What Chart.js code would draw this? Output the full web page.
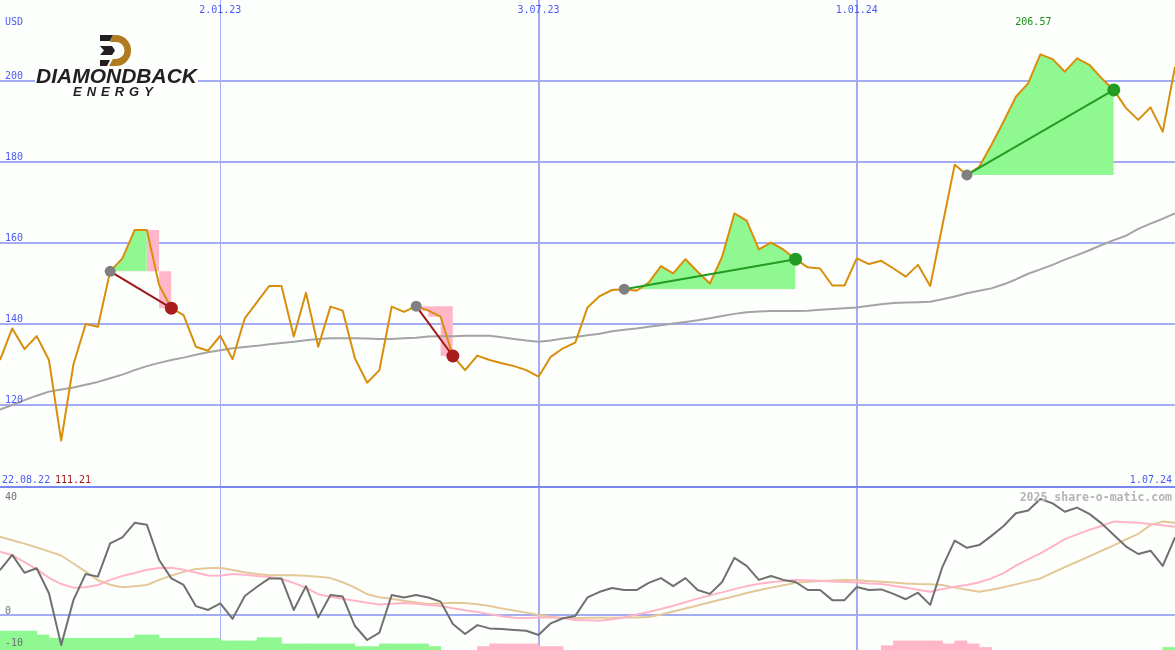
<!DOCTYPE html>
<html>
<head>
<meta charset="utf-8">
<script src="https://cdn.jsdelivr.net/npm/chart.js@4.4.1/dist/chart.umd.min.js"></script>
<style>
  html, body { margin: 0; padding: 0; background: #fcfffc; }
  #wrap { position: relative; width: 1175px; height: 650px; overflow: hidden; background: #fcfffc; }
  #priceChart { position: absolute; left: 0; top: 0; }
  #oscChart { position: absolute; left: 0; top: 486px; }
  #logo { position: absolute; left: 35px; top: 33px; width: 163px; height: 66px; background: #fcfffc; }
  #logo svg { position: absolute; left: 65px; top: 2px; }
  #logo .name { position: absolute; left: 1px; top: 32px; font: italic bold 21px "Liberation Sans", Arial, sans-serif; line-height: 21px; color: #231f20; white-space: nowrap; }
  #logo .sub { position: absolute; left: 38px; top: 52px; font: italic bold 13px "Liberation Sans", Arial, sans-serif; line-height: 13px; letter-spacing: 5px; color: #231f20; white-space: nowrap; }
</style>
</head>
<body>
<div id="wrap">
  <canvas id="priceChart" width="1175" height="486"></canvas>
  <canvas id="oscChart" width="1175" height="164"></canvas>
  <div id="logo">
    <svg width="31" height="31" viewBox="0 0 31 31">
      <path fill="#b07a1e" d="M13 0 H16 A15 15.5 0 0 1 16 31 H9 L13 24 H16 A8.5 8.5 0 0 0 16 7 H10 Z"/>
      <polygon fill="#231f20" points="0,0 13,0 10,6 0,6"/>
      <polygon fill="#231f20" points="0,11 12,11 15,15.5 12,20 0,20 4,15.5"/>
      <polygon fill="#231f20" points="0,25 10,25 7,31 0,31"/>
    </svg>
    <div class="name">DIAMONDBACK</div>
    <div class="sub">ENERGY</div>
  </div>
</div>
<script>
// weekly closes, 22.08.22 .. 1.07.24 (index = week)
const close = [
  131.1, 138.9, 133.8, 137.0, 131.1, 111.21, 130.0, 140.0, 139.3, 153.0,
  156.2, 163.2, 163.2, 149.6, 143.9, 142.2, 134.4, 133.4, 137.1, 131.3,
  141.4, 145.4, 149.4, 149.4, 136.9, 147.7, 134.4, 144.3, 143.3, 131.5,
  125.5, 128.6, 144.3, 143.0, 144.4, 143.3, 141.8, 132.1, 128.6, 132.2,
  131.1, 130.3, 129.6, 128.6, 127.0, 131.9, 134.0, 135.4, 144.1, 146.9,
  148.4, 148.6, 148.2, 150.2, 154.3, 152.5, 156.0, 152.9, 150.0, 156.6,
  167.3, 165.5, 158.4, 160.1, 158.4, 156.0, 154.0, 153.7, 149.5, 149.5,
  156.2, 154.8, 155.6, 153.7, 151.7, 154.6, 149.4, 164.4, 179.3, 176.8,
  178.8, 184.2, 190.0, 196.1, 199.4, 206.57, 205.4, 202.3, 205.6, 204.0,
  200.7, 197.8, 193.3, 190.4, 193.5, 187.5, 203.5
];
const average = [
  118.9, 120.0, 121.2, 122.3, 123.3, 123.8, 124.3, 125.0, 125.7, 126.6,
  127.5, 128.6, 129.6, 130.4, 131.1, 131.7, 132.4, 133.0, 133.5, 134.0,
  134.3, 134.6, 135.0, 135.3, 135.6, 136.0, 136.3, 136.5, 136.5, 136.5,
  136.4, 136.3, 136.3, 136.5, 136.6, 136.9, 137.0, 137.0, 137.1, 137.1,
  137.1, 136.7, 136.3, 135.9, 135.6, 135.9, 136.4, 136.8, 137.2, 137.6,
  138.2, 138.6, 138.9, 139.3, 139.7, 140.1, 140.5, 140.9, 141.4, 142.0,
  142.5, 142.9, 143.1, 143.2, 143.2, 143.2, 143.3, 143.5, 143.7, 143.9,
  144.1, 144.5, 144.9, 145.2, 145.3, 145.4, 145.5, 146.1, 146.8, 147.6,
  148.2, 148.8, 149.8, 151.0, 152.4, 153.5, 154.6, 155.9, 157.0, 158.2,
  159.5, 160.7, 161.8, 163.5, 164.8, 166.0, 167.3
];

// trades: entry week, exit week, last week of the gain area
const tradeEntry = [9, 34, 51, 79];
const tradeExit = [14, 37, 65, 91];
const gainEnd = [12, null, 65, 91];
// loss steps of the two losing trades
const lossTrade = [0, 1];
const lossStart = [12, 34];
const lossLevels = [[163.2, 163.2, 143.9], [144.4, 143.3, 141.8, 132.1]];

// lower panel
const oscMain = [
  15.1, 20.2, 14.2, 15.7, 7.3, -10.1, 5.0, 13.8, 12.9, 24.1,
  26.1, 31.0, 30.3, 18.5, 12.3, 10.1, 3.0, 1.7, 3.9, -1.3,
  6.4, 9.5, 12.3, 12.3, 1.7, 9.7, -0.8, 6.7, 6.2, -3.7,
  -8.4, -5.9, 6.7, 5.9, 6.7, 5.9, 4.5, -3.0, -6.4, -3.4,
  -4.5, -4.7, -5.0, -5.3, -6.7, -2.8, -1.1, -0.3, 5.9, 7.8,
  9.1, 8.4, 8.4, 10.8, 12.4, 9.7, 12.4, 8.4, 7.1, 11.1,
  19.2, 16.5, 11.8, 13.1, 11.8, 11.1, 8.4, 8.4, 5.0, 5.0,
  9.4, 8.4, 8.6, 7.1, 5.3, 7.5, 3.4, 16.2, 25.0, 22.6,
  23.5, 26.6, 29.9, 34.2, 35.1, 39.0, 37.5, 34.7, 36.1, 34.0,
  30.8, 26.9, 23.0, 20.5, 21.6, 16.5, 26.1
];
const oscPink = [
  21.3, 20.1, 17.8, 15.4, 12.5, 10.4, 9.2, 9.3, 10.1, 11.8,
  13.1, 14.1, 15.2, 15.8, 15.9, 15.2, 14.3, 13.3, 13.2, 13.8,
  13.5, 13.1, 12.8, 12.1, 10.8, 9.1, 7.0, 6.1, 5.5, 4.8,
  4.1, 3.5, 3.8, 4.0, 3.8, 3.4, 3.0, 2.3, 1.6, 1.0,
  0.3, -0.4, -0.9, -1.0, -0.8, -0.8, -1.0, -1.7, -1.8, -1.9,
  -1.4, -0.8, 0.2, 1.0, 2.0, 3.1, 4.3, 5.5, 6.6, 7.6,
  8.7, 9.7, 10.5, 11.0, 11.4, 11.8, 11.7, 11.5, 11.3, 11.1,
  10.9, 10.6, 10.4, 9.8, 9.2, 8.5, 7.8, 8.7, 9.5, 10.1,
  11.0, 12.3, 14.1, 16.6, 18.7, 20.7, 23.1, 25.5, 27.1, 28.6,
  29.9, 31.4, 31.2, 31.0, 30.6, 30.2, 29.7
];
const oscTan = [
  26.3, 25.1, 24.0, 22.7, 21.4, 20.0, 17.3, 14.6, 11.7, 10.2,
  9.3, 9.7, 10.1, 11.8, 13.3, 14.5, 15.5, 15.7, 15.9, 15.1,
  14.4, 13.8, 13.4, 13.4, 13.4, 13.2, 12.9, 12.4, 11.0, 9.2,
  7.0, 6.0, 5.5, 4.8, 4.2, 3.7, 3.9, 4.1, 4.0, 3.6,
  3.0, 2.2, 1.5, 0.8, 0.0, -0.6, -1.0, -1.1, -0.9, -0.9,
  -0.9, -0.8, -0.8, -0.7, 0.2, 1.2, 2.2, 3.2, 4.3, 5.3,
  6.3, 7.4, 8.3, 9.2, 10.0, 10.8, 11.2, 11.4, 11.6, 11.8,
  11.7, 11.4, 11.2, 10.9, 10.6, 10.4, 10.3, 10.1, 9.2, 8.5,
  7.8, 8.5, 9.3, 10.3, 11.3, 12.3, 14.2, 16.1, 17.9, 19.7,
  21.6, 23.4, 25.4, 27.3, 30.2, 31.4, 31.0
];
const _ = null;
// histogram tops per week (bars hang from the bottom edge)
const barGreen = [
  -5.4, -5.4, -5.4, -6.7, -7.8, -7.8, -7.8, -7.8, -7.8, -7.8,
  -7.8, -6.7, -6.7, -7.8, -7.8, -7.8, -7.8, -7.8, -8.7, -8.7,
  -8.7, -7.6, -7.6, -9.7, -9.7, -9.7, -9.7, -9.7, -9.7, -10.6,
  -10.6, -9.7, -9.7, -9.7, -9.7, -10.6, _, _, _, _,
  _, _, _, _, _, _, _, _, _, _,
  _, _, _, _, _, _, _, _, _, _,
  _, _, _, _, _, _, _, _, _, _,
  _, _, _, _, _, _, _, _, _, _,
  _, _, _, _, _, _, _, _, _, _,
  _, _, _, _, _, -10.9
];
const barPink = [
  _, _, _, _, _, _, _, _, _, _,
  _, _, _, _, _, _, _, _, _, _,
  _, _, _, _, _, _, _, _, _, _,
  _, _, _, _, _, _, _, _, _, -10.6,
  -9.7, -9.7, -9.7, -9.7, -10.6, -10.6, _, _, _, _,
  _, _, _, _, _, _, _, _, _, _,
  _, _, _, _, _, _, _, _, _, _,
  _, _, -10.3, -8.7, -8.7, -8.7, -8.7, -9.7, -8.7, -9.7,
  -10.9, _, _, _, _, _, _, _, _, _,
  _, _, _, _, _, _
];

const dateWeeks = [18, 44, 70];
const dateLabels = ['2.01.23', '3.07.23', '1.01.24'];
const priceTicks = [120, 140, 160, 180, 200];
const oscTicks = [40, 0, -10];
const firstLabel = '22.08.22';
const lastLabel = '1.07.24';

const priceMin = 100, priceMax = 220;
const oscMin = -11.76, oscMax = 43.36;

const C = {
  grid: '#a4acf4',
  gridDark: '#7888f0',
  label: '#4a5af6',
  close: '#d98e0b',
  average: '#a4a4a4',
  gain: '#90f890',
  loss: '#ffb6c8',
  winLine: '#229c22',
  lossLine: '#a01818',
  entryDot: '#808080'
};
const FONT = '10px "DejaVu Sans Mono", monospace';

const pts = (arr, off = 0) => arr.map((v, i) => ({ x: i + off, y: v }));

function vLines(chart) {
  const { ctx, chartArea, scales: { x } } = chart;
  dateWeeks.forEach((w, k) => {
    const px = Math.round(x.getPixelForValue(w));
    ctx.lineWidth = k === 0 ? 1 : 2;
    ctx.strokeStyle = C.grid;
    ctx.beginPath();
    ctx.moveTo(k === 0 ? px + 0.5 : px, chartArea.top);
    ctx.lineTo(k === 0 ? px + 0.5 : px, chartArea.bottom);
    ctx.stroke();
  });
}

const priceDecor = {
  id: 'priceDecor',
  beforeDatasetsDraw(chart) {
    const { ctx, chartArea, scales: { y } } = chart;
    ctx.save();
    ctx.lineWidth = 2;
    ctx.strokeStyle = C.grid;
    priceTicks.forEach(v => {
      const py = Math.round(y.getPixelForValue(v));
      ctx.beginPath();
      ctx.moveTo(chartArea.left, py);
      ctx.lineTo(chartArea.right, py);
      ctx.stroke();
    });
    vLines(chart);
    ctx.restore();
  },
  afterDraw(chart) {
    const { ctx, chartArea, scales: { x, y } } = chart;
    ctx.save();
    ctx.font = FONT;
    ctx.fillStyle = C.label;
    ctx.textBaseline = 'alphabetic';
    ctx.textAlign = 'left';
    ctx.fillText('USD', 5, 25);
    priceTicks.forEach(v => ctx.fillText(String(v), 5, Math.round(y.getPixelForValue(v)) - 2));
    ctx.textAlign = 'center';
    dateWeeks.forEach((w, k) => ctx.fillText(dateLabels[k], x.getPixelForValue(w), 13));
    ctx.textAlign = 'left';
    ctx.fillText(firstLabel, 2, chartArea.bottom - 3);
    const lo = Math.min(...close), hi = Math.max(...close);
    ctx.fillStyle = '#a01818';
    ctx.fillText(lo.toFixed(2), 55, chartArea.bottom - 3);
    ctx.fillStyle = C.label;
    ctx.textAlign = 'right';
    ctx.fillText(lastLabel, chartArea.right - 3, chartArea.bottom - 3);
    ctx.fillStyle = '#189018';
    ctx.textAlign = 'center';
    ctx.fillText(hi.toFixed(2), x.getPixelForValue(close.indexOf(hi)) - 7, 25);
    ctx.restore();
  }
};

const oscDecor = {
  id: 'oscDecor',
  beforeDatasetsDraw(chart) {
    const { ctx, chartArea, scales: { y } } = chart;
    ctx.save();
    ctx.lineWidth = 2;
    ctx.strokeStyle = C.grid;
    const py = Math.round(y.getPixelForValue(0));
    ctx.beginPath();
    ctx.moveTo(chartArea.left, py);
    ctx.lineTo(chartArea.right, py);
    ctx.stroke();
    vLines(chart);
    ctx.restore();
  },
  afterDraw(chart) {
    const { ctx, chartArea, scales: { y } } = chart;
    ctx.save();
    ctx.lineWidth = 2;
    ctx.strokeStyle = C.gridDark;
    ctx.beginPath();
    ctx.moveTo(chartArea.left, 1);
    ctx.lineTo(chartArea.right, 1);
    ctx.stroke();
    ctx.font = FONT;
    ctx.fillStyle = '#707070';
    ctx.textAlign = 'left';
    const shift = { '40': 4, '0': -1, '-10': 1 };
    oscTicks.forEach(v => {
      const py = Math.round(y.getPixelForValue(v));
      ctx.fillText(String(v), 5, py + shift[String(v)]);
    });
    ctx.font = 'bold 11.5px "DejaVu Sans Mono", monospace';
    ctx.fillStyle = '#b4b4b4';
    ctx.textAlign = 'right';
    ctx.fillText('2025 share-o-matic.com', chartArea.right - 3, 15);
    ctx.restore();
  }
};

const lineBase = { type: 'line', pointRadius: 0, tension: 0, fill: false, borderJoinStyle: 'round' };

// upper panel datasets
const priceSets = [
  { ...lineBase, data: pts(close), borderColor: C.close, borderWidth: 2, order: 2 },
  { ...lineBase, data: pts(average), borderColor: C.average, borderWidth: 2, order: 3 }
];
tradeEntry.forEach((e, k) => {
  const x2 = tradeExit[k];
  const win = close[x2] > close[e];
  priceSets.push({
    ...lineBase,
    data: [{ x: e, y: close[e] }, { x: x2, y: close[x2] }],
    borderColor: win ? C.winLine : C.lossLine,
    borderWidth: 2,
    pointRadius: [5.5, 6.5],
    pointBorderWidth: 0,
    pointBackgroundColor: [C.entryDot, win ? C.winLine : '#a81c1c'],
    order: 1
  });
  if (gainEnd[k] !== null) {
    priceSets.push({
      ...lineBase,
      data: pts(close.slice(e, gainEnd[k] + 1), e),
      borderWidth: 0,
      borderColor: 'rgba(0,0,0,0)',
      backgroundColor: C.gain,
      fill: { target: { value: close[e] }, above: C.gain, below: C.loss },
      order: 5
    });
  }
});
lossStart.forEach((s, k) => {
  const e = tradeEntry[lossTrade[k]];
  priceSets.push({
    ...lineBase,
    data: pts(lossLevels[k], s),
    stepped: 'after',
    borderWidth: 0,
    borderColor: 'rgba(0,0,0,0)',
    backgroundColor: C.loss,
    fill: { target: { value: close[e] }, above: C.loss, below: C.loss },
    order: 6
  });
});

const baseOptions = (ymin, ymax) => ({
  responsive: false,
  animation: false,
  devicePixelRatio: 1,
  events: [],
  layout: { padding: 0, autoPadding: false },
  plugins: { legend: { display: false }, tooltip: { enabled: false } },
  scales: {
    x: { type: 'linear', min: 0, max: 96, display: false, offset: false },
    y: { type: 'linear', min: ymin, max: ymax, display: false }
  }
});

new Chart(document.getElementById('priceChart'), {
  type: 'line',
  data: { datasets: priceSets },
  options: baseOptions(priceMin, priceMax),
  plugins: [priceDecor]
});

// lower panel datasets
const barPoints = arr => arr.map((v, i) => (v === null ? null : { x: i + 0.5, y: [oscMin, v] })).filter(Boolean);
const barBase = { type: 'bar', grouped: false, barPercentage: 1, categoryPercentage: 1, borderWidth: 0, borderSkipped: false, order: 5 };

new Chart(document.getElementById('oscChart'), {
  type: 'line',
  data: {
    datasets: [
      { ...lineBase, data: pts(oscMain), borderColor: '#707070', borderWidth: 2, order: 1 },
      { ...lineBase, data: pts(oscPink), borderColor: '#ffb4c8', borderWidth: 2, order: 2 },
      { ...lineBase, data: pts(oscTan), borderColor: '#e4c898', borderWidth: 2, order: 3 },
      { ...barBase, data: barPoints(barGreen), backgroundColor: C.gain },
      { ...barBase, data: barPoints(barPink), backgroundColor: C.loss }
    ]
  },
  options: baseOptions(oscMin, oscMax),
  plugins: [oscDecor]
});
</script>
</body>
</html>
